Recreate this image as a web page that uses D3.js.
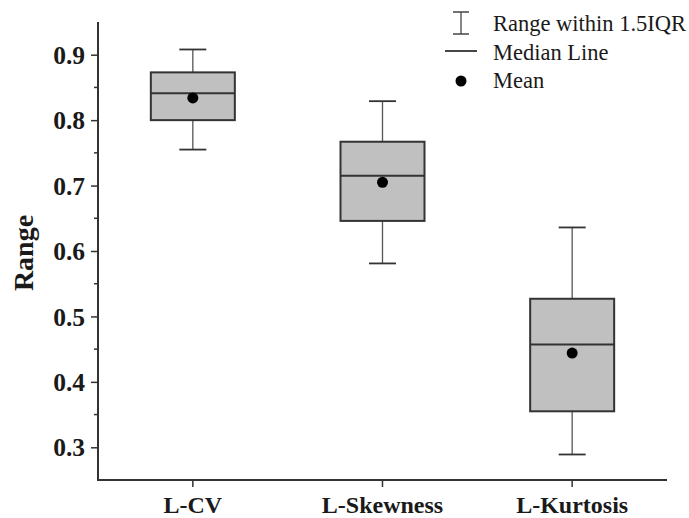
<!DOCTYPE html>
<html>
<head>
<meta charset="utf-8">
<script src="https://cdn.jsdelivr.net/npm/d3@7"></script>
<style>
  html, body { margin: 0; padding: 0; background: #fff; }
  svg { display: block; }
</style>
</head>
<body>
<svg id="chart" width="689" height="518"></svg>
<script>
// Box-plot statistics for the three L-moment ratios
const categories   = ["L-CV", "L-Skewness", "L-Kurtosis"];
const whiskerLow   = [0.755, 0.581, 0.289];
const q1           = [0.800, 0.646, 0.355];
const medians      = [0.841, 0.715, 0.457];
const q3           = [0.873, 0.767, 0.527];
const whiskerHigh  = [0.908, 0.829, 0.636];
const means        = [0.834, 0.705, 0.444];
const yTicks       = [0.3, 0.4, 0.5, 0.6, 0.7, 0.8, 0.9];
const yMinorTicks  = [0.35, 0.45, 0.55, 0.65, 0.75, 0.85];
const legendLabels = ["Range within 1.5IQR", "Median Line", "Mean"];

const svg = d3.select("#chart");
const margin = { left: 98, right: 22, top: 22, bottom: 38 };
const W = 689, H = 518;
const serif = "'Liberation Serif', 'Times New Roman', serif";

const x = d3.scaleBand().domain(categories).range([margin.left, W - margin.right]).padding(0);
const y = d3.scaleLinear().domain([0.25, 0.95]).range([H - margin.bottom, margin.top]);

const boxW = 84, capW = 27;
const rows = categories.map((c, i) => ({
  c, lo: whiskerLow[i], q1: q1[i], med: medians[i], q3: q3[i], hi: whiskerHigh[i], mean: means[i]
}));

const g = svg.append("g");
const boxes = g.selectAll("g.box").data(rows).join("g")
  .attr("class", "box")
  .attr("transform", d => `translate(${x(d.c) + x.bandwidth() / 2},0)`);

// whisker stems
boxes.append("line").attr("x1", 0).attr("x2", 0)
  .attr("y1", d => y(d.q3)).attr("y2", d => y(d.hi))
  .attr("stroke", "#555").attr("stroke-width", 1.3);
boxes.append("line").attr("x1", 0).attr("x2", 0)
  .attr("y1", d => y(d.q1)).attr("y2", d => y(d.lo))
  .attr("stroke", "#555").attr("stroke-width", 1.3);
// whisker caps
boxes.selectAll("line.cap").data(d => [d.lo, d.hi]).join("line")
  .attr("class", "cap")
  .attr("x1", -capW / 2).attr("x2", capW / 2)
  .attr("y1", v => y(v)).attr("y2", v => y(v))
  .attr("stroke", "#333").attr("stroke-width", 1.8);
// interquartile box
boxes.append("rect")
  .attr("x", -boxW / 2).attr("width", boxW)
  .attr("y", d => y(d.q3)).attr("height", d => y(d.q1) - y(d.q3))
  .attr("fill", "#c0c0c0").attr("stroke", "#333").attr("stroke-width", 2);
// median
boxes.append("line").attr("x1", -boxW / 2).attr("x2", boxW / 2)
  .attr("y1", d => y(d.med)).attr("y2", d => y(d.med))
  .attr("stroke", "#333").attr("stroke-width", 2);
// mean
boxes.append("circle").attr("cx", 0).attr("cy", d => y(d.mean)).attr("r", 5.5).attr("fill", "#000");

// Y axis
const yAxis = svg.append("g").attr("transform", `translate(${margin.left},0)`)
  .call(d3.axisLeft(y).tickValues(yTicks).tickFormat(d3.format(".1f")).tickSize(7).tickSizeOuter(0));
yAxis.select(".domain").remove();
yAxis.selectAll(".tick line").attr("stroke", "#333").attr("stroke-width", 1.5);
yAxis.selectAll(".tick text")
  .attr("x", -13).attr("dy", "0.34em")
  .style("font-family", serif).style("font-weight", "bold").style("font-size", "25.5px").attr("fill", "#1a1a1a");
svg.append("g").attr("transform", `translate(${margin.left},0)`)
  .selectAll("line").data(yMinorTicks).join("line")
  .attr("x1", -4).attr("x2", 0).attr("y1", d => y(d)).attr("y2", d => y(d))
  .attr("stroke", "#333").attr("stroke-width", 1.5);
svg.append("line")
  .attr("x1", margin.left).attr("x2", margin.left)
  .attr("y1", y(0.95)).attr("y2", y(0.25))
  .attr("stroke", "#333").attr("stroke-width", 2);

// X axis
const xAxis = svg.append("g").attr("transform", `translate(0,${y(0.25)})`)
  .call(d3.axisBottom(x).tickSize(7).tickSizeOuter(0));
xAxis.select(".domain").remove();
xAxis.selectAll(".tick line").attr("stroke", "#333").attr("stroke-width", 1.5);
xAxis.selectAll(".tick text")
  .attr("y", 16).attr("dy", "0.71em")
  .style("font-family", serif).style("font-weight", "bold").style("font-size", "24px").attr("fill", "#1a1a1a");
svg.append("line")
  .attr("x1", margin.left - 1).attr("x2", W - margin.right)
  .attr("y1", y(0.25)).attr("y2", y(0.25))
  .attr("stroke", "#333").attr("stroke-width", 2);

// Y axis title
svg.append("text")
  .attr("transform", `translate(33,${(y(0.95) + y(0.25)) / 2 + 2}) rotate(-90)`)
  .attr("text-anchor", "middle")
  .style("font-family", serif).style("font-weight", "bold").style("font-size", "28px")
  .attr("fill", "#1a1a1a")
  .text("Range");

// Legend
const lg = svg.append("g").attr("transform", "translate(461,0)");
lg.append("line").attr("x1", 0).attr("x2", 0).attr("y1", 12).attr("y2", 34).attr("stroke", "#444").attr("stroke-width", 1.3);
lg.append("line").attr("x1", -8).attr("x2", 8).attr("y1", 12).attr("y2", 12).attr("stroke", "#444").attr("stroke-width", 1.5);
lg.append("line").attr("x1", -8).attr("x2", 8).attr("y1", 34).attr("y2", 34).attr("stroke", "#444").attr("stroke-width", 1.5);
lg.append("line").attr("x1", -16).attr("x2", 16).attr("y1", 51).attr("y2", 51).attr("stroke", "#333").attr("stroke-width", 1.8);
lg.append("circle").attr("cx", 0).attr("cy", 81).attr("r", 5.5).attr("fill", "#000");
lg.selectAll("text").data(legendLabels).join("text")
  .attr("x", 32).attr("y", (d, i) => 31 + i * 28.5)
  .style("font-family", serif).style("font-size", "22.5px").attr("fill", "#1a1a1a")
  .text(d => d);
</script>
</body>
</html>
